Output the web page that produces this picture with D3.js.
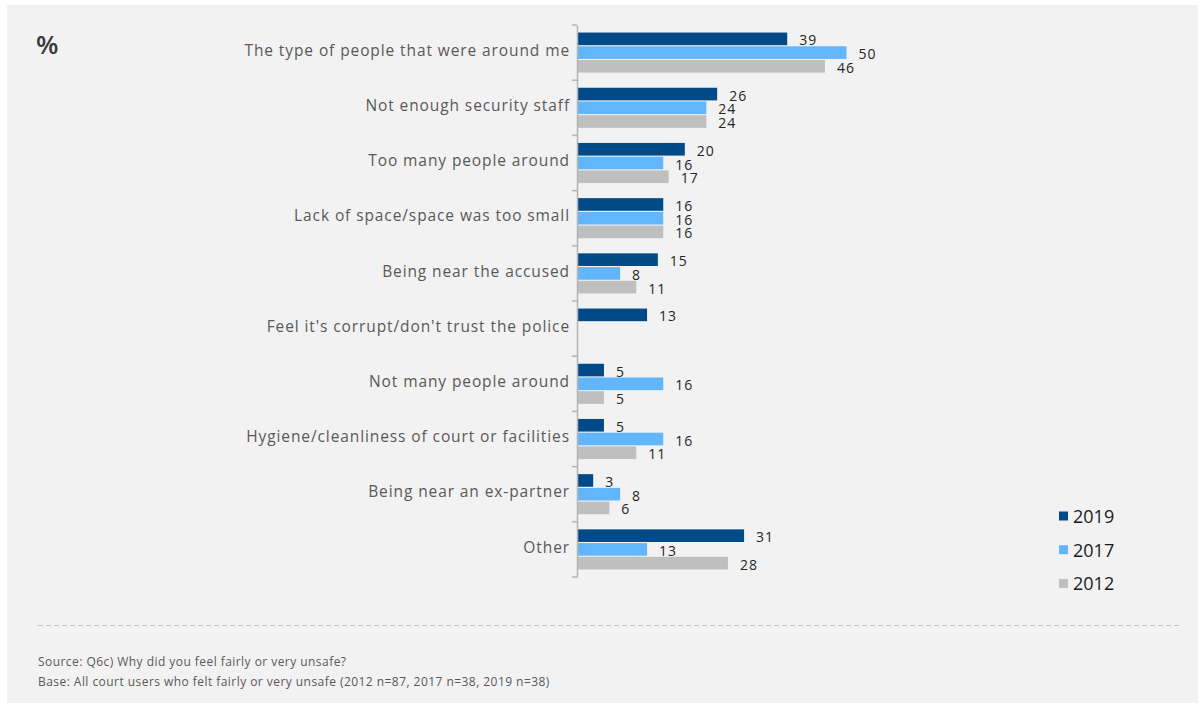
<!DOCTYPE html>
<html>
<head>
<meta charset="utf-8">
<script src="https://cdn.jsdelivr.net/npm/d3@7"></script>
<style>
  html, body { margin: 0; padding: 0; background: #ffffff; }
  svg { display: block; }
  text { font-family: "Open Sans", Lato, sans-serif; }
</style>
</head>
<body>
<svg id="chart" width="1203" height="704"></svg>
<script>
// Reasons for feeling unsafe at court, % of respondents by survey year
const categories = [
  "The type of people that were around me",
  "Not enough security staff",
  "Too many people around",
  "Lack of space/space was too small",
  "Being near the accused",
  "Feel it's corrupt/don't trust the police",
  "Not many people around",
  "Hygiene/cleanliness of court or facilities",
  "Being near an ex-partner",
  "Other"
];
const years = ["2019", "2017", "2012"];
const values2019 = [39, 26, 20, 16, 15, 13, 5, 5, 3, 31];
const values2017 = [50, 24, 16, 16, 8, null, 16, 16, 8, 13];
const values2012 = [46, 24, 17, 16, 11, null, 5, 11, 6, 28];
const yearColors = ["#004b87", "#61b6fd", "#bfbfbf"];
const sourceNote = "Source:  Q6c) Why did you feel fairly or very unsafe?";
const baseNote = "Base: All court users who felt fairly or very unsafe (2012 n=87, 2017 n=38, 2019 n=38)";

const seriesValues = [values2019, values2017, values2012];
const rows = [];
categories.forEach((c, i) => {
  years.forEach((y, j) => {
    const v = seriesValues[j][i];
    if (v !== null) rows.push({ category: c, year: y, value: v });
  });
});

const svg = d3.select("#chart");

// panel background
svg.append("rect").attr("x", 7).attr("y", 5).attr("width", 1191).attr("height", 698)
  .attr("fill", "#f2f2f2");

const axisX = 577;
const x = d3.scaleLinear().domain([0, 50]).range([axisX, axisX + 269.5]);
const y = d3.scaleBand().domain(categories).range([25, 577]).paddingInner(0).paddingOuter(0);
const yInner = d3.scaleBand().domain(years).range([0, y.bandwidth()])
  .paddingInner(0.08).paddingOuter(0.55);
const color = d3.scaleOrdinal().domain(years).range(yearColors);

// bars
svg.append("g").selectAll("rect").data(rows).join("rect")
  .attr("x", x(0) + 0.5)
  .attr("y", d => y(d.category) + yInner(d.year))
  .attr("width", d => x(d.value) - x(0) - 0.5)
  .attr("height", yInner.bandwidth())
  .attr("fill", d => color(d.year));

// value labels
svg.append("g").selectAll("text").data(rows).join("text")
  .attr("x", d => x(d.value) + 12)
  .attr("y", d => y(d.category) + yInner(d.year) + yInner.bandwidth() / 2 + 1)
  .attr("dominant-baseline", "central")
  .attr("font-size", 14)
  .attr("letter-spacing", 1)
  .attr("fill", "#262626")
  .text(d => d.value);

// category axis
const yAxis = d3.axisLeft(y).tickSize(0).tickPadding(7);
const gAxis = svg.append("g").attr("transform", `translate(${axisX},0)`).call(yAxis);
gAxis.select(".domain").attr("stroke", "#b4b4b4").attr("stroke-width", 1.5);
gAxis.selectAll(".tick text")
  .attr("font-size", 15.5)
  .attr("letter-spacing", 0.9)
  .attr("fill", "#595959")
  .attr("font-family", "'Open Sans', sans-serif")
  .attr("dy", "0.2em");

// boundary ticks between categories
const bounds = categories.map(c => y(c)).concat([y.range()[1]]);
svg.append("g").selectAll("line").data(bounds).join("line")
  .attr("x1", axisX - 5).attr("x2", axisX)
  .attr("y1", d => d).attr("y2", d => d)
  .attr("stroke", "#b4b4b4").attr("stroke-width", 1.5);

// unit marker
svg.append("text").attr("x", 36).attr("y", 54)
  .attr("font-size", 26).attr("font-weight", 600).attr("fill", "#3a3a3a")
  .text("%");

// legend
const legend = svg.append("g").selectAll("g").data(years).join("g")
  .attr("transform", (d, i) => `translate(1059,${516 + i * 33.7})`);
legend.append("rect").attr("x", 0).attr("y", -4.5).attr("width", 9).attr("height", 9)
  .attr("fill", d => color(d));
legend.append("text").attr("x", 14).attr("y", 0)
  .attr("dominant-baseline", "central")
  .attr("font-size", 18).attr("fill", "#1a1a1a")
  .text(d => d);

// divider
svg.append("line").attr("x1", 38).attr("x2", 1182).attr("y1", 625.5).attr("y2", 625.5)
  .attr("stroke", "#c4c4c4").attr("stroke-width", 1).attr("stroke-dasharray", "5,3");

// notes
svg.append("text").attr("x", 38).attr("y", 666).attr("font-size", 12)
  .attr("letter-spacing", 0.45).attr("fill", "#595959")
  .text(sourceNote);
svg.append("text").attr("x", 38).attr("y", 686).attr("font-size", 12)
  .attr("letter-spacing", 0.45).attr("fill", "#595959")
  .text(baseNote);
</script>
</body>
</html>
